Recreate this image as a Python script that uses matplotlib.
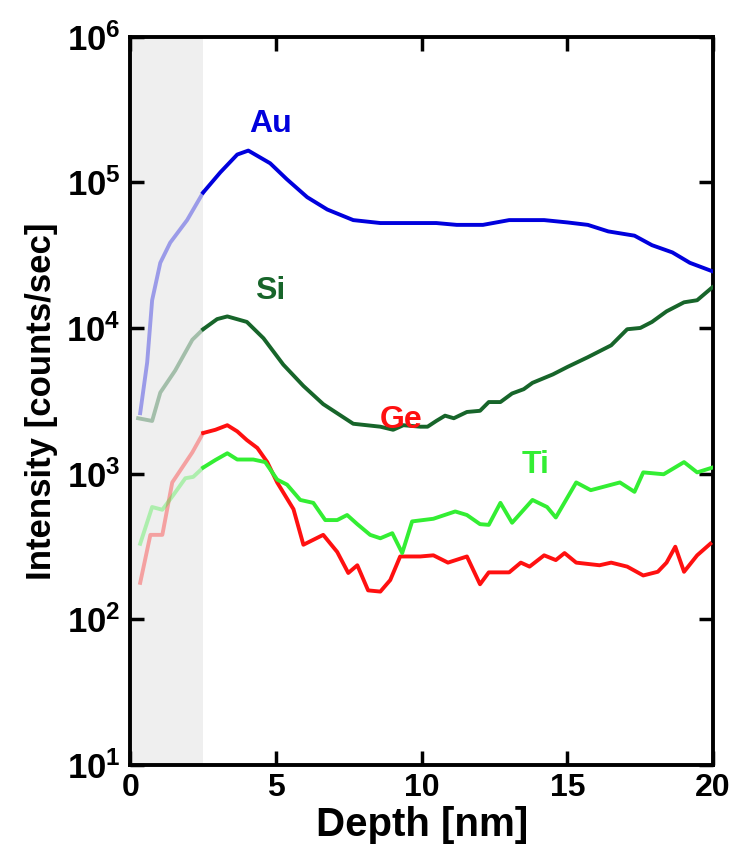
# 深度分布图
import numpy as np
import matplotlib.pyplot as plt
import matplotlib.ticker as ticker
from matplotlib import font_manager

plt.rcParams['font.family'] = ['Liberation Sans', 'DejaVu Sans']
plt.rcParams['mathtext.fontset'] = 'custom'
plt.rcParams['mathtext.rm'] = 'Liberation Sans:bold'
plt.rcParams['mathtext.it'] = 'Liberation Sans:bold'
plt.rcParams['mathtext.bf'] = 'Liberation Sans:bold'

# Au
au_x = [0.34, 0.58, 0.75, 1.03, 1.37, 1.95, 2.5, 3.09, 3.67, 4.05, 4.8, 5.37, 6.07, 6.76, 7.65, 8.58,
        9.3, 10.5, 11.2, 12.1, 13.0, 14.2, 15.0, 15.7, 16.4, 17.3, 17.9, 18.6, 19.2, 19.97]
au_y = [2.6e3, 5.8e3, 1.55e4, 2.8e4, 3.85e4, 5.5e4, 8.5e4, 1.17e5, 1.55e5, 1.65e5, 1.35e5, 1.05e5, 7.9e4, 6.5e4,
        5.5e4, 5.25e4, 5.25e4, 5.25e4, 5.1e4, 5.1e4, 5.5e4, 5.5e4, 5.3e4, 5.1e4, 4.6e4, 4.3e4, 3.7e4, 3.3e4,
        2.8e4, 2.45e4]

# Si
si_x = [0.27, 0.75, 1.03, 1.54, 2.13, 2.5, 2.98, 3.33, 4.0, 4.57, 5.25, 5.94, 6.62, 7.65, 8.58, 9.02, 9.37,
        9.95, 10.2, 10.5, 10.8, 11.1, 11.55, 12.0, 12.3, 12.7, 13.1, 13.5, 13.8, 14.5, 15.0, 15.7, 16.5, 17.05,
        17.5, 17.9, 18.4, 19.0, 19.45, 19.97]
si_y = [2.4e3, 2.3e3, 3.6e3, 5.1e3, 8.3e3, 9.8e3, 1.15e4, 1.2e4, 1.1e4, 8.5e3, 5.6e3, 4.0e3, 3.0e3, 2.2e3,
        2.1e3, 2.0e3, 2.15e3, 2.1e3, 2.1e3, 2.3e3, 2.5e3, 2.4e3, 2.65e3, 2.7e3, 3.1e3, 3.1e3, 3.55e3, 3.8e3,
        4.2e3, 4.8e3, 5.4e3, 6.3e3, 7.6e3, 9.8e3, 1.0e4, 1.1e4, 1.3e4, 1.5e4, 1.55e4, 1.9e4]

# Ge
ge_x = [0.34, 0.69, 1.1, 1.44, 1.78, 2.13, 2.5, 2.92, 3.33, 3.67, 4.0, 4.36, 4.7, 5.04, 5.6, 5.94, 6.62, 7.1,
        7.48, 7.79, 8.16, 8.58, 8.92, 9.26, 9.95, 10.4, 10.9, 11.55, 12.0, 12.3, 13.0, 13.4, 13.7, 14.2, 14.6,
        14.9, 15.3, 16.1, 16.5, 17.05, 17.6, 18.1, 18.4, 18.7, 19.0, 19.45, 19.9]
ge_y = [178, 380, 380, 870, 1100, 1400, 1900, 2000, 2150, 1950, 1700, 1500, 1200, 870, 570, 325, 380, 290,
        208, 235, 158, 155, 186, 270, 270, 275, 245, 270, 174, 210, 210, 245, 230, 275, 255, 285, 245, 235,
        245, 230, 200, 212, 245, 315, 212, 275, 330]

# Ti
ti_x = [0.34, 0.75, 1.1, 1.47, 1.89, 2.16, 2.5, 2.92, 3.33, 3.67, 4.22, 4.63, 5.04, 5.38, 5.83, 6.28, 6.69,
        7.1, 7.44, 7.79, 8.23, 8.58, 8.99, 9.33, 9.67, 10.4, 11.15, 11.55, 12.0, 12.3, 12.7, 13.1, 13.8, 14.3,
        14.6, 15.3, 15.8, 16.8, 17.3, 17.6, 18.3, 19.0, 19.45, 19.97]
ti_y = [330, 590, 565, 710, 930, 950, 1100, 1240, 1380, 1250, 1250, 1200, 910, 840, 660, 630, 480, 480, 520,
        450, 380, 360, 390, 285, 470, 490, 550, 520, 450, 445, 630, 460, 660, 590, 500, 870, 770, 870, 750,
        1020, 990, 1200, 1020, 1100]

series = [("Au", au_x, au_y, '#0000dd', 4.8, 2.5e5),
          ("Si", si_x, si_y, '#17652a', 4.8, 1.8e4),
          ("Ge", ge_x, ge_y, '#ff1010', 9.3, 2.35e3),
          ("Ti", ti_x, ti_y, '#33ee33', 13.9, 1.15e3)]

surface = 2.5  # 表面区域

# 纵坐标名字用窄字体（如果有）
names = {f.name for f in font_manager.fontManager.ttflist}
if 'Liberation Sans Narrow' in names:
    ylab_font, ylab_size = 'Liberation Sans Narrow', 30
else:
    ylab_font, ylab_size = 'Liberation Sans', 25

fig = plt.figure(figsize=(7.36, 8.61), dpi=100)
ax = fig.add_axes([0.177, 0.1115, 0.792, 0.846])

ax.axvspan(0, surface, color='#efefef', zorder=0, lw=0)

for name, x, y, c, tx, ty in series:
    x = np.array(x)
    y = np.array(y)
    m1 = x <= surface
    m2 = x >= surface
    ax.plot(x[m1], y[m1], '-', color=c, alpha=0.35, lw=2.8, zorder=2)
    ax.plot(x[m2], y[m2], '-', color=c, lw=2.8, zorder=3)
    ax.text(tx, ty, name, color=c, fontsize=23, fontweight='bold', ha='center', va='center')

ax.set_yscale('log')
ax.set_xlim(0, 20)
ax.set_ylim(10, 1e6)
ax.set_xticks([0, 5, 10, 15, 20])
ax.set_yticks([1e1, 1e2, 1e3, 1e4, 1e5, 1e6])
ax.yaxis.set_minor_locator(ticker.NullLocator())
ax.set_yticklabels([r'$\mathregular{10^{%d}}$' % i for i in range(1, 7)])

ax.tick_params(axis='both', which='major', direction='in', length=10, width=2.5,
               top=True, right=True, labelsize=23, pad=6)
ax.tick_params(axis='y', labelsize=25, pad=7)
for t in ax.yaxis.get_major_ticks():
    t.tick1line.set_color('#999999')
for lab in ax.get_xticklabels() + ax.get_yticklabels():
    lab.set_fontweight('bold')

for s in ax.spines.values():
    s.set_linewidth(2.8)

ax.set_xlabel("Depth [nm]", fontsize=29, fontweight='bold', labelpad=2)
ax.set_ylabel("Intensity [counts/sec]", fontsize=ylab_size, fontweight='bold',
              family=[ylab_font, 'Liberation Sans'], labelpad=6)

fig.savefig("out.png", dpi=100)
